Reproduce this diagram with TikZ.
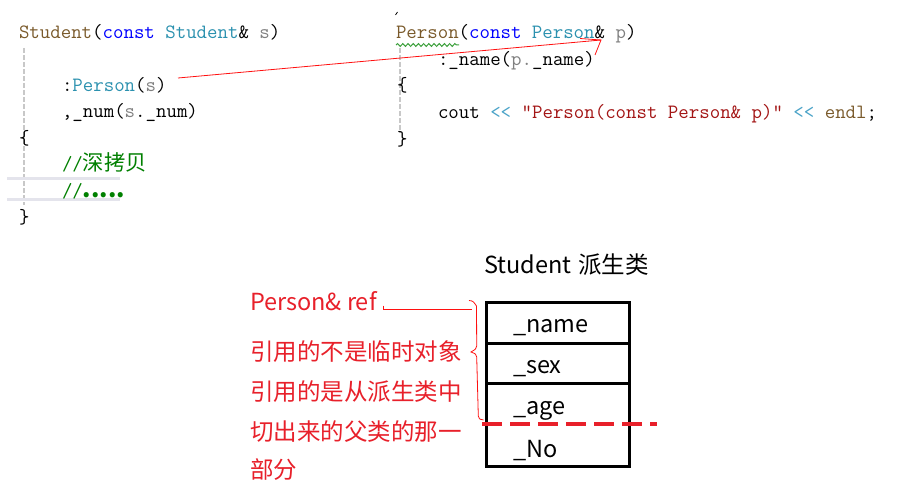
\documentclass[tikz,border=0pt]{standalone}
\usepackage{fontspec}
\newfontfamily\cjk{Noto Sans CJK SC}
\usetikzlibrary{decorations.pathmorphing}
\definecolor{fn}{HTML}{7A5A2B}
\definecolor{kw}{HTML}{0000FF}
\definecolor{ty}{HTML}{2B91AF}
\definecolor{pr}{HTML}{808080}
\definecolor{cm}{HTML}{008000}
\definecolor{st}{HTML}{A31515}
\definecolor{op}{HTML}{4AA3C8}
\definecolor{rd}{HTML}{E8202A}
\definecolor{ln}{HTML}{FF1010}
\definecolor{guide}{HTML}{C8C8C8}
\definecolor{hl}{HTML}{E4E4EC}
\definecolor{squig}{HTML}{3CA03C}
\tikzset{
  x=1pt, y=-1pt,
  code/.style={anchor=base west, inner sep=0pt, outer sep=0pt, font=\ttfamily\fontsize{20.3}{24}\selectfont},
  lbl/.style={anchor=base west, inner sep=0pt, outer sep=0pt, font=\cjk\fontsize{23.5}{28}\selectfont},
  redlbl/.style={lbl, text=rd},
  cell/.style={draw=black, line width=3pt, inner sep=0pt, minimum width=143pt},
  guideline/.style={draw=guide, line width=1.2pt, dash pattern=on 5pt off 2pt},
  hlline/.style={draw=hl, line width=3pt},
  redthin/.style={draw=ln, line width=0.8pt},
}
\newcommand{\cjkc}{\cjk\fontsize{21.3}{24}\selectfont}
\begin{document}
\begin{tikzpicture}
\path[use as bounding box, fill=white] (0,0) rectangle (904,500);

% editor guides and current-line highlight
\coordinate (gl1) at (24,48); \coordinate (gl2) at (24,205);
\coordinate (gr1) at (400,48); \coordinate (gr2) at (400,133);
\draw[guideline] (gl1) -- (gl2);
\draw[guideline] (gr1) -- (gr2);
\coordinate (h1a) at (7,178.3); \coordinate (h1b) at (120,178.3);
\coordinate (h2a) at (7,199.5); \coordinate (h2b) at (120,199.5);
\draw[hlline] (h1a) -- (h1b);
\draw[hlline] (h2a) -- (h2b);

% left code
\node[code] (L1) at (19,38.3) {\textcolor{fn}{Student}(\textcolor{kw}{const} \textcolor{ty}{Student}\& \textcolor{pr}{s})};
\node[code] (L2) at (62,91.3) {:\textcolor{ty}{Person}(\textcolor{pr}{s})};
\node[code] (L3) at (62,117.8) {,\_num(\textcolor{pr}{s}.\_num)};
\node[code] (L4) at (19,144.3) {\{};
\node[code] (L5) at (62,170.8) {\textcolor{cm}{//{\cjkc 深拷贝}}};
\node[code] (L6) at (62,197.3) {\textcolor{cm}{//{\cjk\fontsize{24}{24}\selectfont\bfseries .....}}};
\node[code] (L7) at (19,223.8) {\}};

% right code
\coordinate (tk1) at (395.5,15); \coordinate (tk2) at (397.5,12);
\draw[line width=0.8pt] (tk1) -- (tk2);
\node[code] (R1) at (396,39) {\textcolor{fn}{Person}(\textcolor{kw}{const} \textcolor{ty}{Person}\& \textcolor{pr}{p})};
\coordinate (sq1) at (396,45); \coordinate (sq2) at (459,45);
\draw[squig, line width=1pt, decorate, decoration={snake, amplitude=1.4pt, segment length=5.2pt}] (sq1) -- (sq2);
\node[code] (R2) at (438,65.5) {:\_name(\textcolor{pr}{p.}\_name)};
\node[code] (R3) at (397,92) {\{};
\node[code] (R4) at (438,118.5) {cout \textcolor{op}{<{}<} \textcolor{st}{"Person(const Person\& p)"} \textcolor{op}{<{}<} \textcolor{fn}{endl};};
\node[code] (R5) at (397,145) {\}};

% red arrow
\coordinate (astart) at (178,78);
\coordinate (atip) at (601,40);
\coordinate (barb1) at (580,38.5);
\coordinate (barb2) at (595,55);
\draw[redthin] (astart) -- (atip);
\draw[redthin] (barb1) -- (atip) -- (barb2);

% lower diagram
\node[lbl] (title) at (484,273) {Student\hspace{7pt}派生类};
\node[redlbl] (ref) at (250,310) {Person\& ref};
\node[redlbl] (t1) at (250,360) {引用的不是临时对象};
\node[redlbl] (t2) at (250,400) {引用的是从派生类中};
\node[redlbl] (t3) at (250,440) {切出来的父类的那一};
\node[redlbl] (t4) at (250,478) {部分};

\node[cell, minimum height=41pt] (cname) at (557.5,322.5) {};
\node[cell, minimum height=40pt] (csex) at (557.5,363) {};
\node[cell, minimum height=83pt] (crest) at (557.5,424.5) {};
\node[lbl] (fname) at (513,332) {\_name};
\node[lbl] (fsex) at (513,373) {\_sex};
\node[lbl] (fage) at (513,414) {\_age};
\node[lbl] (fno) at (513,457) {\_No};

% cut line
\coordinate (cut1) at (482,424); \coordinate (cut2) at (657,424);
\draw[draw=rd, line width=4pt, dash pattern=on 20pt off 8pt] (cut1) -- (cut2);

% brace and pointer
\coordinate (r0) at (383.3,305.5);
\coordinate (r1) at (383.3,309.3);
\coordinate (bA) at (472,309.3);
\draw[redthin] (r0) -- (r1) -- (bA);
\coordinate (b0) at (469,300.5);
\coordinate (b1) at (476.5,306);
\coordinate (b2) at (476.7,346);
\coordinate (b3) at (471,352);
\coordinate (b4) at (476.7,357);
\coordinate (b5) at (478.3,416);
\coordinate (b6) at (483.5,420);
\draw[redthin] (b0) .. controls (473,301) .. (b1) -- (b2) .. controls (476,349) .. (b3) .. controls (476,354) .. (b4) -- (b5) .. controls (479,419) .. (b6);
\end{tikzpicture}
\end{document}
